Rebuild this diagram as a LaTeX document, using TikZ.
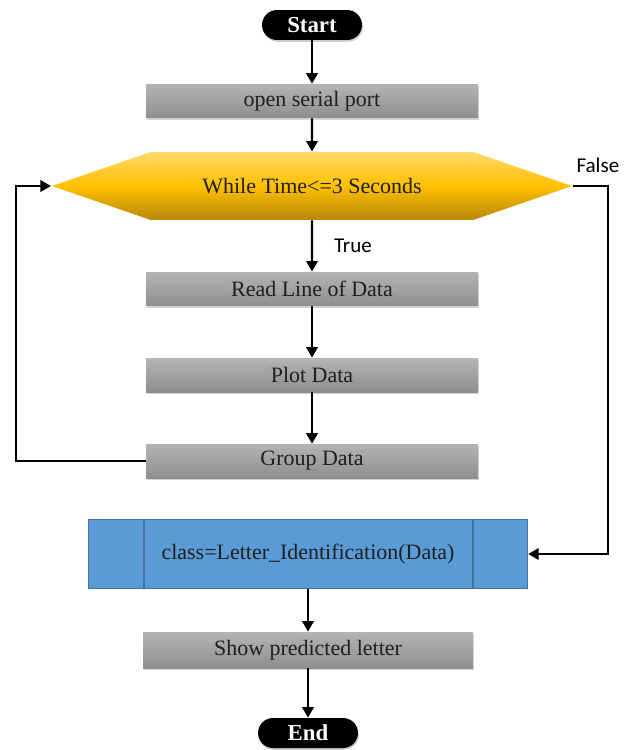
\documentclass[tikz,border=0pt]{standalone}
\usepackage{fontspec}
\setmainfont{Liberation Serif}
\newfontfamily\labelfont{Carlito}
\usetikzlibrary{positioning,calc,shapes.symbols,shadows,arrows.meta}

\definecolor{graytop}{HTML}{B4B4B4}
\definecolor{graybot}{HTML}{8E8E8E}
\definecolor{goldtop}{HTML}{FFD966}
\definecolor{goldmid}{HTML}{FFC000}
\definecolor{goldbot}{HTML}{B8860B}
\definecolor{clsfill}{HTML}{5B9BD5}
\definecolor{clsdraw}{HTML}{41719C}

\tikzset{
  process/.style={rectangle, minimum width=6.64cm, minimum height=0.68cm,
    top color=graytop, bottom color=graybot, text=black!88,
    font=\fontsize{12.5}{14}\selectfont,
    drop shadow={opacity=0.35, shadow xshift=0.4pt, shadow yshift=-1.4pt}},
  terminal/.style={rectangle, rounded corners=0.3cm, minimum width=2cm,
    minimum height=0.6cm, fill=black, text=white,
    font=\fontsize{13}{15}\selectfont\bfseries,
    drop shadow={opacity=0.4, shadow xshift=0.5pt, shadow yshift=-1pt}},
  loopcond/.style={signal, signal to=west and east, signal pointer angle=38,
    minimum width=10.4cm, minimum height=1.36cm, inner sep=0pt,
    top color=goldtop, bottom color=goldbot, middle color=goldmid,
    text=black!88, font=\fontsize{12.5}{14}\selectfont},
  subproc/.style={rectangle, minimum width=8.78cm, minimum height=1.38cm,
    fill=clsfill, draw=clsdraw, line width=0.8pt, text=black!88,
    font=\fontsize{12.5}{14}\selectfont},
  flow/.style={-{Triangle[width=6.5pt,length=6pt]}, line width=1.3pt},
  tag/.style={font=\labelfont\fontsize{12}{14}\selectfont}
}

\begin{document}
\begin{tikzpicture}[x=0.02cm, y=-0.02cm]
  \useasboundingbox (0,0) rectangle (631,750);

  \node[terminal] (start) at (312,25) {Start};
  \node[process] (open) at (312,101) {open serial port};
  \node[loopcond] (cond) at (312,186) {While Time<=3 Seconds};
  \node[process] (read) at (312,289) {Read Line of Data};
  \node[process] (plot) at (312,375) {Plot Data};
  \node[process] (group) at (312,461) {Group Data};
  \node[subproc] (cls) at (308,554) {class=Letter\_Identification(Data)};
  \node[process, minimum height=0.72cm, minimum width=6.6cm] (show) at (308,650) {Show predicted letter};
  \node[terminal] (finish) at (308,733) {End};

  % side bars of the predefined process
  \draw[clsdraw, line width=0.8pt] ($(cls.north west)+(56,0)$) -- ($(cls.south west)+(56,0)$);
  \draw[clsdraw, line width=0.8pt] ($(cls.north east)+(-55,0)$) -- ($(cls.south east)+(-55,0)$);

  \coordinate (loopx) at (16,300);
  \coordinate (exitx) at (608,300);

  \draw[flow] (start) -- (open);
  \draw[flow] (open) -- (cond);
  \draw[flow] (cond) -- node[tag, right=0.3cm] {True} (read);
  \draw[flow] (read) -- (plot);
  \draw[flow] (plot) -- (group);
  \draw[flow] (group.west) -- (group.west -| loopx) |- (cond.west);
  \draw[flow] (cond.east) node[tag, above right=3.5pt and -2pt] {False}
    -- (cond.east -| exitx) |- (cls.east);
  \draw[flow] (cls) -- (show);
  \draw[flow] (show) -- (finish);
\end{tikzpicture}
\end{document}
